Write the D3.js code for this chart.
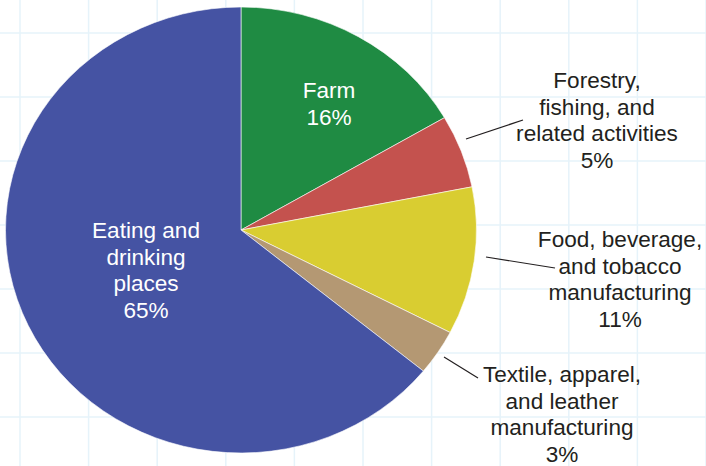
<!DOCTYPE html>
<html>
<head>
<meta charset="utf-8">
<script src="https://cdn.jsdelivr.net/npm/d3@7"></script>
<style>
  body { margin: 0; background: #fff; }
  svg { display: block; }
</style>
</head>
<body>
<div id="pieChart"></div>
<script>
// Data
var categories = ["Farm", "Forestry, fishing, and related activities",
    "Food, beverage, and tobacco manufacturing",
    "Textile, apparel, and leather manufacturing", "Eating and drinking places"];
var shares = [16.6, 5.3, 10.7, 3.3, 64.1];           // slice sizes as drawn
var pctLabels = ["16%", "5%", "11%", "3%", "65%"];   // printed percentages
var labelLines = [
    ["Farm"],
    ["Forestry,", "fishing, and", "related activities"],
    ["Food, beverage,", "and tobacco", "manufacturing"],
    ["Textile, apparel,", "and leather", "manufacturing"],
    ["Eating and", "drinking", "places"]
];
var colors = ["#1f8b43", "#c4524e", "#d9cd31", "#b49873", "#4553a3"];

function drawPie() {
    var width = 706, height = 466;
    var cx = 241, cy = 230, radius = 223, stretch = 1.056;

    // Label placement (annotation layout)
    var layout = [
        {x: 329, y: 98, fill: "#fff"},
        {x: 597, y: 88, fill: "#231f20", leader: [[466, 139], [523, 120]]},
        {x: 620, y: 247, fill: "#231f20", leader: [[486, 257], [555, 268]]},
        {x: 562, y: 382, fill: "#231f20", leader: [[444, 357], [478, 378]]},
        {x: 146, y: 238, fill: "#fff"}
    ];
    var lineH = 26.7;

    var svg = d3.select("#pieChart").append("svg")
        .attr("width", width)
        .attr("height", height);

    svg.append("rect").attr("width", width).attr("height", height).attr("fill", "#fff");

    // Background grid
    var grid = svg.append("g").attr("stroke", "#e6f3fa").attr("stroke-width", 1.5);
    grid.selectAll(".vline")
        .data(d3.range(20, width + 1, 68.6))
        .enter().append("line")
        .attr("x1", d => d).attr("x2", d => d)
        .attr("y1", 0).attr("y2", height);
    grid.selectAll(".hline")
        .data(d3.range(33, height, 64))
        .enter().append("line")
        .attr("y1", d => d).attr("y2", d => d)
        .attr("x1", 0).attr("x2", width);

    var data = categories.map(function(c, i) {
        return {name: c, share: shares[i], pct: pctLabels[i], lines: labelLines[i], color: colors[i]};
    });

    var pie = d3.pie().sort(null).value(d => d.share);
    var arc = d3.arc().innerRadius(0).outerRadius(radius);

    // Slices (slightly wider than tall, like the reference)
    svg.append("g")
        .attr("transform", "translate(" + cx + "," + cy + ") scale(" + stretch + ",1)")
        .selectAll("path")
        .data(pie(data))
        .enter().append("path")
        .attr("d", arc)
        .attr("fill", d => d.data.color)
        .attr("stroke", "#fff")
        .attr("stroke-width", 0.6)
        .attr("vector-effect", "non-scaling-stroke");

    // Leader lines
    svg.selectAll(".leader")
        .data(layout.filter(d => d.leader))
        .enter().append("line")
        .attr("class", "leader")
        .attr("x1", d => d.leader[0][0]).attr("y1", d => d.leader[0][1])
        .attr("x2", d => d.leader[1][0]).attr("y2", d => d.leader[1][1])
        .attr("stroke", "#231f20")
        .attr("stroke-width", 1.2);

    // Labels (text is stretched a little, same as the pie)
    var labels = svg.selectAll(".label")
        .data(data)
        .enter().append("text")
        .attr("class", "label")
        .attr("transform", (d, i) => "translate(" + layout[i].x + ",0) scale(1.05,1)")
        .attr("text-anchor", "middle")
        .attr("font-family", "'Liberation Sans', Arial, Helvetica, sans-serif")
        .attr("font-size", "21.5px")
        .attr("fill", (d, i) => layout[i].fill);

    labels.each(function(d, i) {
        var t = d3.select(this);
        d.lines.concat([d.pct]).forEach(function(s, j) {
            t.append("tspan")
                .attr("x", 0)
                .attr("y", layout[i].y + j * lineH)
                .text(s);
        });
    });
}

drawPie();
</script>
</body>
</html>
